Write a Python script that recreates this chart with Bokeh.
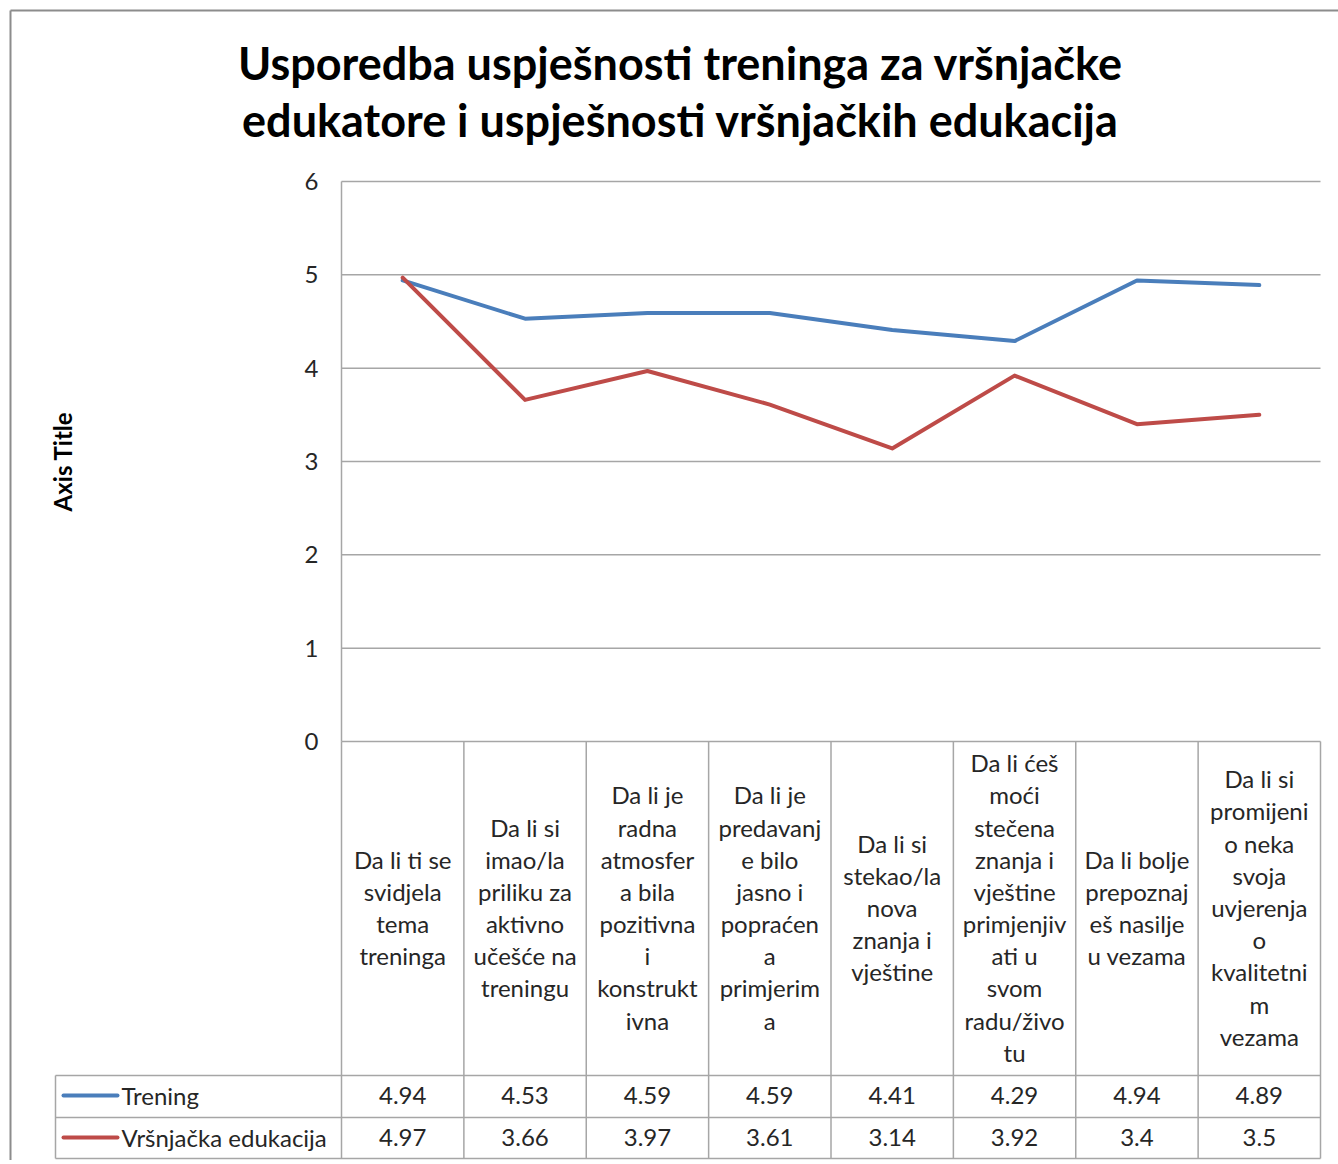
from bokeh.plotting import figure
from bokeh.models import Range1d
from bokeh.core.properties import value
from bokeh.embed import file_html
from bokeh.resources import INLINE

# ---------------- data ----------------
categories = [
    "Da li ti se\nsvidjela\ntema\ntreninga",
    "Da li si\nimao/la\npriliku za\naktivno\nučešće na\ntreningu",
    "Da li je\nradna\natmosfer\na bila\npozitivna\ni\nkonstrukt\nivna",
    "Da li je\npredavanj\ne bilo\njasno i\npopraćen\na\nprimjerim\na",
    "Da li si\nstekao/la\nnova\nznanja i\nvještine",
    "Da li ćeš\nmoći\nstečena\nznanja i\nvještine\nprimjenjiv\nati u\nsvom\nradu/živo\ntu",
    "Da li bolje\nprepoznaj\neš nasilje\nu vezama",
    "Da li si\npromijeni\no neka\nsvoja\nuvjerenja\no\nkvalitetni\nm\nvezama",
]
series_names = ["Trening", "Vršnjačka edukacija"]
trening = [4.94, 4.53, 4.59, 4.59, 4.41, 4.29, 4.94, 4.89]
vrsnjacka = [4.97, 3.66, 3.97, 3.61, 3.14, 3.92, 3.4, 3.5]
trening_labels = ["4.94", "4.53", "4.59", "4.59", "4.41", "4.29", "4.94", "4.89"]
vrsnjacka_labels = ["4.97", "3.66", "3.97", "3.61", "3.14", "3.92", "3.4", "3.5"]
y_ticks = [0, 1, 2, 3, 4, 5, 6]
title_lines = ["Usporedba uspješnosti treninga za vršnjačke",
               "edukatore i uspješnosti vršnjačkih edukacija"]
axis_title = "Axis Title"

BLUE = "#4a7ebb"
RED = "#be4b48"
GRID = "#a6a6a6"
FONT = "Lato"
TXT = "#262626"

# ---------------- layout (screen px -> data) ----------------
W, H = 1338, 1160
OX, OY = 0, 0
PL, PR = 341, 1320                 # plot area left/right (screen)
PT, PB = 181, 741                  # y=6 / y=0 (screen)
n = len(categories)
ux = (PR - PL) / n
uy = (PB - PT) / 6.0

def px(sx):
    return (sx - PL) / ux

def py(sy):
    return (PB - sy) / uy

p = figure(width=W, height=H, output_backend="svg", toolbar_location=None,
           x_range=Range1d(px(OX), px(OX + W)), y_range=Range1d(py(OY + H), py(OY)),
           min_border=0)
p.axis.visible = False
p.grid.visible = False
p.outline_line_color = None

# outer chart border
p.multi_line(xs=[[px(10), px(10)], [px(10), px(1338)]],
             ys=[[py(1160), py(10)], [py(10), py(10)]],
             line_color="#8c8c8c", line_width=2)

# gridlines
gx0, gx1 = px(PL), px(PR)
p.segment(x0=[gx0] * len(y_ticks), x1=[gx1] * len(y_ticks), y0=y_ticks, y1=y_ticks,
          line_color=GRID, line_width=1.5)
# value axis line
p.segment(x0=[0], x1=[0], y0=[0], y1=[6], line_color=GRID, line_width=1.5)

# y tick labels
p.text(x=[px(318)] * len(y_ticks), y=y_ticks, text=[str(t) for t in y_ticks],
       text_align="right", text_baseline="middle", text_font=value(FONT),
       text_font_size="24px", text_color=TXT)

# axis title
p.text(x=[px(62)], y=[py(461)], text=[axis_title], angle=1.5708,
       text_align="center", text_baseline="middle", text_font=value(FONT),
       text_font_style="bold", text_font_size="24px", text_color="black")

# chart title
p.text(x=[px(680), px(680)], y=[py(62), py(119)], text=title_lines,
       text_align="center", text_baseline="middle", text_font=value(FONT),
       text_font_style="bold", text_font_size="45px", text_color="black")

# data table lines
TB_ROW1, TB_ROW2, TB_BOT = 1075, 1117, 1158
xb = list(range(n + 1))
p.segment(x0=xb, x1=xb, y0=[0] * (n + 1), y1=[py(TB_BOT)] * (n + 1),
          line_color=GRID, line_width=1.5)
p.segment(x0=[px(55)] * 3, x1=[n] * 3, y0=[py(TB_ROW1), py(TB_ROW2), py(TB_BOT)],
          y1=[py(TB_ROW1), py(TB_ROW2), py(TB_BOT)], line_color=GRID, line_width=1.5)
p.segment(x0=[px(55)], x1=[px(55)], y0=[py(TB_ROW1)], y1=[py(TB_BOT)],
          line_color=GRID, line_width=1.5)

xc = [i + 0.5 for i in range(n)]

# category labels
p.text(x=xc, y=[py(907)] * n, text=categories,
       text_align="center", text_baseline="middle", text_font=value(FONT),
       text_font_size="24px", text_line_height=1.11, text_color=TXT)

# table values
r1y, r2y = py(1095), py(1137)
p.text(x=xc, y=[r1y] * n, text=trening_labels, text_align="center",
       text_baseline="middle", text_font=value(FONT), text_font_size="24px",
       text_color=TXT)
p.text(x=xc, y=[r2y] * n, text=vrsnjacka_labels, text_align="center",
       text_baseline="middle", text_font=value(FONT), text_font_size="24px",
       text_color=TXT)

# legend keys + names
p.segment(x0=[px(63)] * 2, x1=[px(117)] * 2, y0=[r1y, r2y], y1=[r1y, r2y],
          line_color=[BLUE, RED], line_width=4, line_cap="round")
p.text(x=[px(121)] * 2, y=[r1y, r2y], text=series_names, text_align="left",
       text_baseline="middle", text_font=value(FONT), text_font_size="24px",
       text_color=TXT)

# series lines
p.line(x=xc, y=trening, line_color=BLUE, line_width=4, line_cap="round", line_join="round")
p.line(x=xc, y=vrsnjacka, line_color=RED, line_width=4, line_cap="round", line_join="round")

open("out.html", "w").write(file_html(p, INLINE))
